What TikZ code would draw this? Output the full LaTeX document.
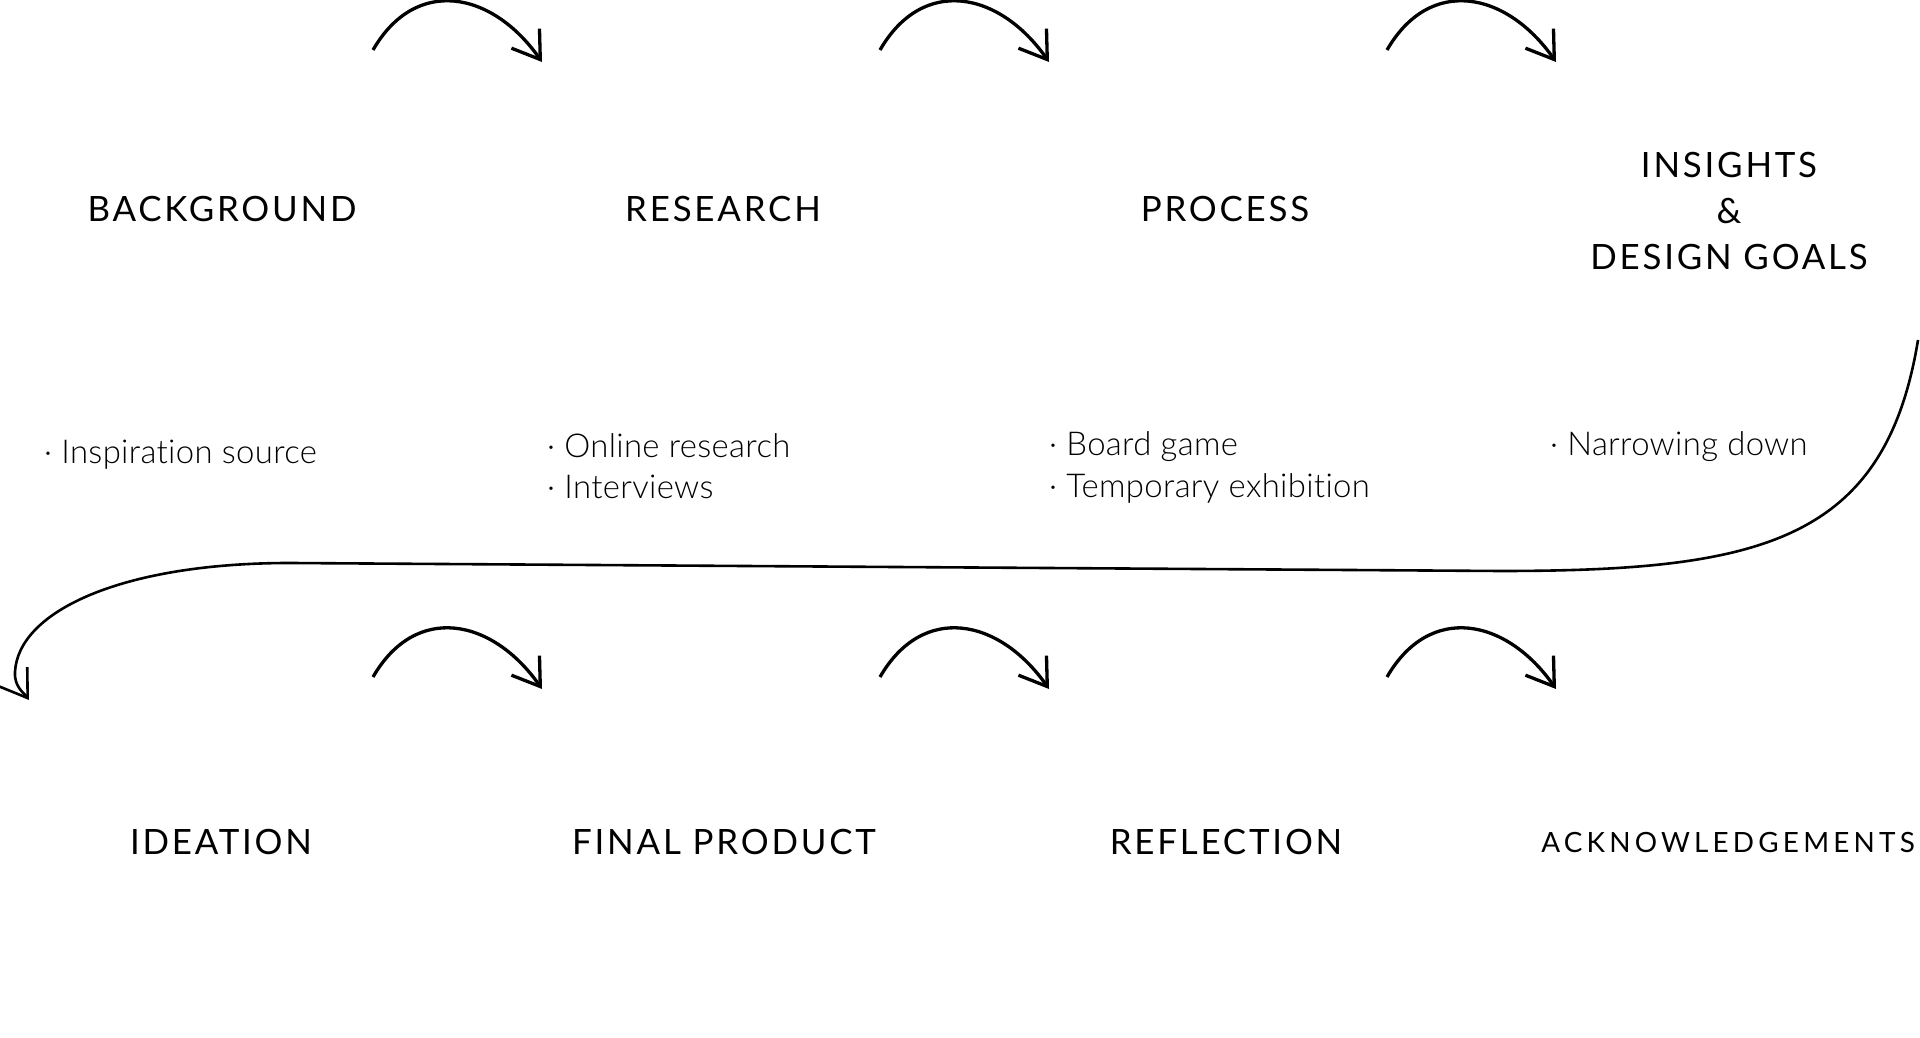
\documentclass[tikz,border=0pt]{standalone}
\usepackage{fontspec}
\setmainfont{Lato}[Ligatures=NoCommon]
\newfontfamily\headfont{Lato}[Ligatures=NoCommon, LetterSpace=8]
\newfontfamily\ackfont{Lato}[Ligatures=NoCommon, LetterSpace=15]
\newfontfamily\lightfont{Lato Light}[Ligatures=NoCommon, LetterSpace=1]
\usetikzlibrary{arrows.meta}
\begin{document}
\begin{tikzpicture}[x=1bp,y=1bp,
  head/.style={font=\headfont\fontsize{35}{46}\selectfont, inner sep=0pt, anchor=base, align=center},
  item/.style={font=\lightfont\fontsize{33}{40}\selectfont, inner sep=0pt, anchor=base west},
  hop/.style={line width=3.3bp, -{Straight Barb[angle=67:31bp]}, out=60, in=125, looseness=1.3},
  longarrow/.style={line width=2.6bp, -{Straight Barb[angle=67:31bp]}}]
\useasboundingbox (0,0) rectangle (1920,1037);
% headings, top row
\node[head] (bg) at (222,815) {BACKGROUND};
\node[head] (rs) at (723,815) {RESEARCH};
\node[head] (pr) at (1225,815) {PROCESS};
\node[head, anchor=center] (ins) at (1729,826) {INSIGHTS\\\&\\DESIGN GOALS};
% headings, bottom row
\node[head] (id) at (221,182) {IDEATION};
\node[head] (fp) at (724,182) {FINAL PRODUCT};
\node[head] (rf) at (1226,182) {REFLECTION};
\node[head, font=\ackfont\fontsize{28}{34}\selectfont] (ack) at (1728,184) {ACKNOWLEDGEMENTS};
% bullet items
\node[item] (b1) at (44,573) {· Inspiration source};
\node[item] (r1) at (547,579) {· Online research};
\node[item] (r2) at (547,538) {· Interviews};
\node[item] (p1) at (1049,581) {· Board game};
\node[item] (p2) at (1049,539) {· Temporary exhibition};
\node[item] (n1) at (1550,581) {· Narrowing down};
% small hop arrows
\coordinate (t1s) at (373,987);  \coordinate (t1e) at (542,975);
\coordinate (t2s) at (880,987);  \coordinate (t2e) at (1049,975);
\coordinate (t3s) at (1387,987); \coordinate (t3e) at (1556,975);
\coordinate (u1s) at (373,360);  \coordinate (u1e) at (542,348);
\coordinate (u2s) at (880,360);  \coordinate (u2e) at (1049,348);
\coordinate (u3s) at (1387,360); \coordinate (u3e) at (1556,348);
\draw[hop] (t1s) to (t1e);
\draw[hop] (t2s) to (t2e);
\draw[hop] (t3s) to (t3e);
\draw[hop] (u1s) to (u1e);
\draw[hop] (u2s) to (u2e);
\draw[hop] (u3s) to (u3e);
% long return arrow
\coordinate (ls) at (1918,697);
\coordinate (le) at (29,337);
\draw[longarrow] (ls) .. controls (1885,495) and (1760,466) .. (1500,466)
  -- (290,474) .. controls (120,474) and (18,425) .. (15,365)
  .. controls (14,350) and (24.5,343.6) .. (le);
\end{tikzpicture}
\end{document}
